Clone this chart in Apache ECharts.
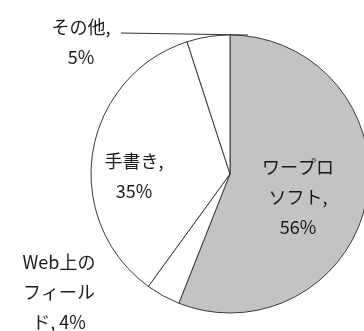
<!DOCTYPE html>
<html>
<head>
<meta charset="utf-8">
<script src="https://cdn.jsdelivr.net/npm/echarts@6/dist/echarts.min.js"></script>
<style>
  html, body { margin: 0; padding: 0; background: #fff; }
  #chart { width: 364px; height: 331px; }
</style>
</head>
<body>
<div id="chart"></div>
<script>
// Share of answers by method (percent), clockwise from 12 o'clock
const categories = ['ワープロソフト', 'Web上のフィールド', '手書き', 'その他'];
const values = [56, 4, 35, 5];
// Label text as wrapped on the chart (value is appended)
const labelTexts = ['ワープロ\nソフト,\n', 'Web上の\nフィール\nド, ', '手書き,\n', 'その他,\n'];

const fills = ['#c3c3c3', '#ffffff', '#ffffff', '#ffffff'];
const labelCenters = [[298, 197], [59, 292], [134, 176], [81, 42]];

const chart = echarts.init(document.getElementById('chart'), null, { renderer: 'canvas' });

chart.setOption({
  animation: false,
  backgroundColor: '#ffffff',
  series: [{
    type: 'pie',
    center: [230, 174],
    radius: 139,
    startAngle: 90,
    clockwise: true,
    avoidLabelOverlap: false,
    itemStyle: { borderColor: '#3a3a3a', borderWidth: 1 },
    label: {
      show: true,
      position: 'outside',
      color: '#1a1a1a',
      fontFamily: 'Noto Sans CJK JP',
      fontSize: 18,
      lineHeight: 30,
      align: 'center',
      formatter: p => labelTexts[p.dataIndex] + p.value + '%'
    },
    labelLine: { show: false, lineStyle: { color: '#333', width: 1 } },
    labelLayout: p => {
      const c = labelCenters[p.dataIndex];
      const out = { x: c[0], y: c[1], align: 'center', verticalAlign: 'middle' };
      if (p.dataIndex === 3) out.labelLinePoints = [[121, 33], [185, 34], [248, 35]];
      return out;
    },
    data: categories.map((name, i) => ({
      name,
      value: values[i],
      itemStyle: { color: fills[i] },
      labelLine: { show: i === 3, smooth: false }
    }))
  }]
});
</script>
</body>
</html>
